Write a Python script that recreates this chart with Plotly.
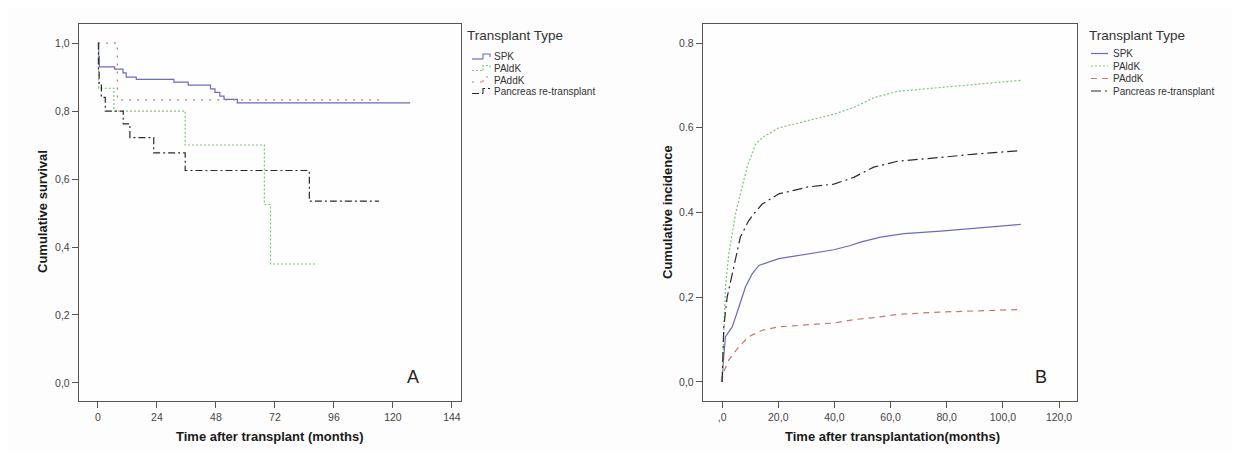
import plotly.graph_objects as go

W, H = 1240, 461
OFF = 8                      # default body margin of the written page
FW, FH = W - 2 * OFF, H - 2 * OFF


def fx(px):
    return (px - OFF) / FW


def fy(py):
    return 1 - (py - OFF) / FH


# ---------------- Panel A: Kaplan-Meier (months) ----------------
series_names = ["SPK", "PAldK", "PAddK", "Pancreas re-transplant"]

a_spk_t = [0, 0.3, 0.6, 6.8, 10.2, 11.5, 15.6, 30.9, 36.7, 45.8, 47.6, 49.6, 51.3, 56.7, 127]
a_spk_s = [1.0, 0.96, 0.930, 0.923, 0.912, 0.900, 0.893, 0.885, 0.876, 0.865, 0.855, 0.844, 0.834, 0.824, 0.824]

a_paldk_t = [0, 0.3, 6.5, 35.5, 67.7, 70.2, 89.2]
a_paldk_s = [1.0, 0.867, 0.800, 0.700, 0.525, 0.350, 0.350]

a_paddk_t = [0, 7.9, 116]
a_paddk_s = [1.0, 0.833, 0.833]

a_retx_t = [0, 0.2, 0.5, 1.4, 3.0, 10.3, 13.0, 22.7, 35.5, 86.0, 114.3]
a_retx_s = [1.0, 0.92, 0.88, 0.84, 0.80, 0.762, 0.722, 0.677, 0.625, 0.535, 0.535]

a_xticks = [0, 24, 48, 72, 96, 120, 144]
a_yticks = [0.0, 0.2, 0.4, 0.6, 0.8, 1.0]
a_yticklabels = ["0,0", "0,2", "0,4", "0,6", "0,8", "1,0"]

# ---------------- Panel B: cumulative incidence ----------------
b_spk_t = [0, 0.3, 1.2, 3.6, 6.0, 8.3, 10.7, 13.1, 20.2, 27.4, 39.8, 45.7, 49.3, 56.4, 64.8, 77.9, 90.0, 106.4]
b_spk_v = [0, 0.036, 0.107, 0.130, 0.177, 0.224, 0.255, 0.275, 0.291, 0.299, 0.312, 0.322, 0.330, 0.342, 0.350, 0.356, 0.363, 0.372]

b_paldk_t = [0, 1.2, 2.4, 4.8, 7.1, 8.9, 11.9, 14.3, 20.2, 27.4, 32.6, 39.8, 46.9, 54.0, 62.4, 70.7, 77.9, 90.0, 106.4]
b_paldk_v = [0, 0.224, 0.303, 0.397, 0.460, 0.507, 0.561, 0.577, 0.600, 0.612, 0.620, 0.632, 0.648, 0.671, 0.686, 0.691, 0.695, 0.703, 0.712]

b_paddk_t = [0, 0.3, 2.4, 6.0, 9.5, 14.3, 20.2, 27.4, 32.6, 39.8, 46.9, 54.0, 63.6, 77.9, 90.0, 106.4]
b_paddk_v = [0, 0.020, 0.052, 0.083, 0.107, 0.122, 0.130, 0.134, 0.136, 0.139, 0.147, 0.152, 0.160, 0.165, 0.168, 0.171]

b_retx_t = [0, 0.6, 1.8, 4.8, 6.5, 9.5, 11.3, 14.3, 20.2, 27.4, 30.2, 39.8, 46.9, 54.0, 62.4, 77.9, 90.0, 106.4]
b_retx_v = [0, 0.130, 0.200, 0.287, 0.342, 0.381, 0.397, 0.420, 0.444, 0.455, 0.460, 0.467, 0.483, 0.507, 0.521, 0.530, 0.538, 0.546]

b_xticks = [0, 20, 40, 60, 80, 100, 120]
b_xticklabels = [",0", "20,0", "40,0", "60,0", "80,0", "100,0", "120,0"]
b_yticks = [0.0, 0.2, 0.4, 0.6, 0.8]
b_yticklabels = ["0,0", "0,2", "0.4", "0.6", "0.8"]

# ---------------- styles ----------------
BLUE = "#6b6bbb"
GREEN = "#7cc47c"
RED = "#c9776d"
BLACK = "#2a2a2a"
FONT = "Arial, Liberation Sans, sans-serif"

a_styles = [(BLUE, "solid"), (GREEN, "2px,2px"), (RED, "2px,6px"), (BLACK, "7px,3px,2px,3px")]
b_styles = [(BLUE, "solid"), (GREEN, "2px,2px"), (RED, "6px,5px"), (BLACK, "10px,4px,2px,4px")]

fig = go.Figure()

for name, t, s, (c, d) in zip(series_names,
                              [a_spk_t, a_paldk_t, a_paddk_t, a_retx_t],
                              [a_spk_s, a_paldk_s, a_paddk_s, a_retx_s], a_styles):
    fig.add_trace(go.Scatter(x=t, y=s, mode="lines", name=name, showlegend=False,
                             line=dict(color=c, width=1.2, dash=d, shape="hv"),
                             xaxis="x", yaxis="y"))

for name, t, v, (c, d) in zip(series_names,
                              [b_spk_t, b_paldk_t, b_paddk_t, b_retx_t],
                              [b_spk_v, b_paldk_v, b_paddk_v, b_retx_v], b_styles):
    fig.add_trace(go.Scatter(x=t, y=v, mode="lines", name=name, showlegend=False,
                             line=dict(color=c, width=1.2, dash=d),
                             xaxis="x2", yaxis="y2"))

axis_common = dict(showline=True, linecolor="#555555", linewidth=1.4, mirror=True,
                   ticks="outside", ticklen=6, tickcolor="#555555", tickwidth=1.3,
                   showgrid=False, zeroline=False,
                   tickfont=dict(family=FONT, size=10.5, color="#444444"))

fig.update_layout(
    width=FW, height=FH,
    margin=dict(l=0, r=0, t=0, b=0),
    paper_bgcolor="#fdfdfd", plot_bgcolor="#fefefe",
    font=dict(family=FONT, color="#222222"),
    showlegend=False,
    xaxis=dict(domain=[fx(79), fx(461)], range=[-7.7, 147.7], anchor="y",
               tickvals=a_xticks, ticktext=[str(v) for v in a_xticks], **axis_common),
    yaxis=dict(domain=[fy(401), fy(24)], range=[-0.053, 1.056], anchor="x",
               tickvals=a_yticks, ticktext=a_yticklabels, **axis_common),
    xaxis2=dict(domain=[fx(703), fx(1077)], range=[-6.8, 126.4], anchor="y2",
                tickvals=b_xticks, ticktext=b_xticklabels, **axis_common),
    yaxis2=dict(domain=[fy(401), fy(24)], range=[-0.045, 0.845], anchor="x2",
                tickvals=b_yticks, ticktext=b_yticklabels, **axis_common),
)


def ann(x, y, text, size, xanchor="center", angle=0, color="#1a1a1a"):
    fig.add_annotation(x=fx(x), y=fy(y), xref="paper", yref="paper", text=text,
                       showarrow=False, xanchor=xanchor, yanchor="middle", textangle=angle,
                       font=dict(family=FONT, size=size, color=color))


# axis titles and panel letters
ann(270, 436, "<b>Time after transplant (months)</b>", 13)
ann(892, 436, "<b>Time after transplantation(months)</b>", 13)
ann(43, 212, "<b>Cumulative survival</b>", 13, angle=-90)
ann(668, 212, "<b>Cumulative incidence</b>", 13, angle=-90)
ann(413, 377, "A", 18, color="#222222")
ann(1041, 377, "B", 18, color="#222222")

# hand-drawn legends (SPSS-like compact spacing)
ann(465, 36, "Transplant Type", 13.5, xanchor="left", color="#333333")
a_item_y = [57, 68.5, 80, 91.5]
for name, (c, d), y in zip(series_names, a_styles, a_item_y):
    fig.add_shape(type="line", xref="paper", yref="paper",
                  x0=fx(472), x1=fx(483), y0=fy(y + 2), y1=fy(y + 2),
                  line=dict(color=c, width=1.2, dash=d))
    fig.add_shape(type="path", xref="paper", yref="paper",
                  path=f"M {fx(483)},{fy(y + 2)} L {fx(483)},{fy(y - 3)} L {fx(490)},{fy(y - 3)} L {fx(490)},{fy(y)}",
                  line=dict(color=c, width=1.1, dash=d))
    ann(492, y, name, 10, xanchor="left", color="#333333")

ann(1087, 36, "Transplant Type", 13.5, xanchor="left", color="#333333")
b_item_y = [53.5, 66, 78.5, 91]
for name, (c, d), y in zip(series_names, b_styles, b_item_y):
    fig.add_shape(type="line", xref="paper", yref="paper",
                  x0=fx(1091), x1=fx(1108), y0=fy(y), y1=fy(y),
                  line=dict(color=c, width=1.2, dash=d))
    ann(1111, y, name, 10, xanchor="left", color="#333333")

fig.write_html("out.html")
